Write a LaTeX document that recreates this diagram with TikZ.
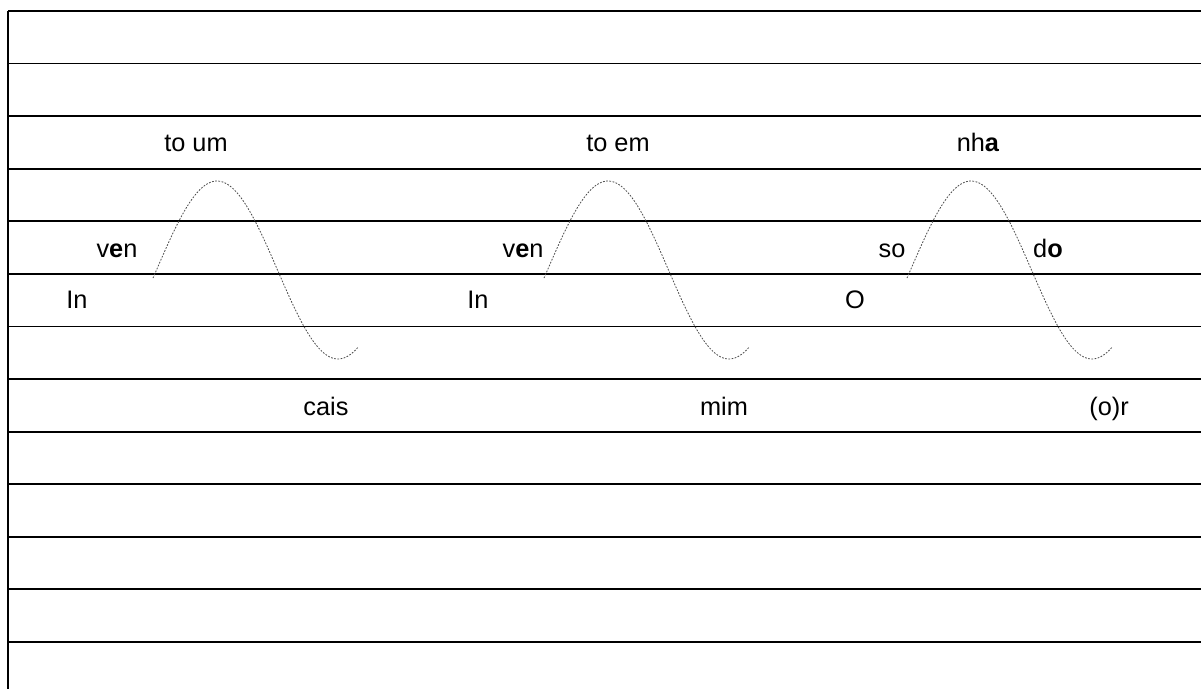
\documentclass[tikz,border=0pt]{standalone}
\usepackage{fontspec}
\setmainfont{Liberation Sans}
\begin{document}
\begin{tikzpicture}[x=0.75pt,y=-0.75pt,
  rule/.style={line width=1.35pt,black},
  wave/.style={line width=0.6pt,black!70,dash pattern=on 1.3pt off 1.1pt},
  lbl/.style={anchor=base,inner sep=0pt,font=\fontsize{19}{22}\selectfont}]
\useasboundingbox (0,0) rectangle (1201,689);
\fill[white] (0,0) rectangle (1201,689);
% staff lines
\foreach \k in {0,...,12}{
  \draw[rule] (8,{11+52.58*\k}) -- (1201,{11+52.58*\k});
}
\draw[rule] (8,11) -- (8,689);
% waves
\foreach \dx in {0,391,754}{
  \draw[wave] plot[domain=0:205,samples=80,variable=\pp]
    ({153+\pp+\dx},{270-89*sin((\pp-3.5)*1.4876)});
}
% labels
\node[lbl] (t1) at (196,151) {to um};
\node[lbl] (t2) at (618,151) {to em};
\node[lbl] (t3) at (978,151) {nh\textbf{a}};
\node[lbl] (v1) at (117,257) {v\textbf{e}n};
\node[lbl] (v2) at (523,257) {v\textbf{e}n};
\node[lbl] (s3) at (892,257) {so};
\node[lbl] (d3) at (1048,257) {d\textbf{o}};
\node[lbl] (i1) at (77,308) {In};
\node[lbl] (i2) at (478,308) {In};
\node[lbl] (o3) at (855,308) {O};
\node[lbl] (c1) at (326,415) {cais};
\node[lbl] (m2) at (724,415) {mim};
\node[lbl] (r3) at (1109,415) {(o)r};
\end{tikzpicture}
\end{document}
